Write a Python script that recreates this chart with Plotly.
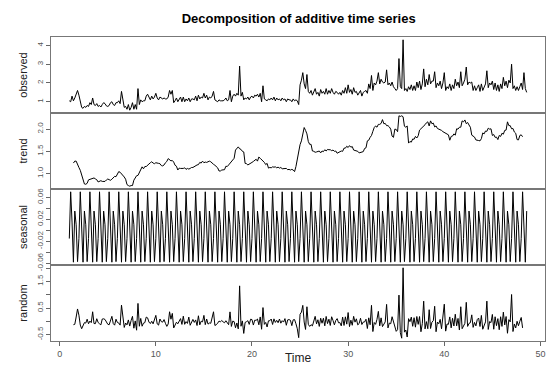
import numpy as np
import plotly.graph_objects as go
from plotly.subplots import make_subplots

# ---- data (daily series, weekly seasonality, time unit = 1 cycle) ----
freq = 7
start_time = 1.0

obs_rows = [
    [1.05, 1.0, 1.3, 1.05, 1.2, 1.45, 1.6],
    [1.35, 1.0, 0.7, 0.65, 0.75, 0.7, 0.8],
    [0.75, 0.95, 0.85, 1.2, 0.85, 0.8, 0.9],
    [0.75, 0.8, 0.72, 0.85, 0.95, 0.9, 0.78],
    [0.75, 0.8, 0.95, 1.0, 0.85, 0.8, 0.95],
    [0.95, 1.05, 0.9, 1.55, 1.1, 0.7, 0.75],
    [0.6, 0.85, 0.55, 0.7, 0.95, 0.6, 0.85],
    [0.6, 1.7, 0.85, 1.1, 1.0, 1.05, 1.05],
    [1.3, 1.4, 1.2, 1.1, 1.3, 1.15, 1.25],
    [1.45, 1.2, 1.1, 1.25, 1.2, 1.15, 1.2],
    [1.15, 1.15, 1.25, 1.6, 1.4, 1.6, 0.95],
    [1.05, 1.2, 1.0, 1.1, 1.25, 1.0, 1.25],
    [1.0, 1.15, 1.05, 1.2, 1.0, 1.15, 1.15],
    [1.1, 1.3, 1.05, 1.35, 1.15, 1.25, 1.2],
    [1.45, 1.2, 1.35, 1.1, 1.25, 1.2, 1.3],
    [1.55, 1.1, 1.05, 1.0, 1.1, 1.05, 1.05],
    [1.05, 1.1, 1.2, 1.05, 1.1, 1.6, 1.0],
    [1.3, 1.4, 1.3, 1.45, 1.35, 2.9, 1.3],
    [1.5, 1.1, 1.2, 1.15, 1.25, 1.1, 1.25],
    [1.3, 1.2, 1.35, 1.3, 1.4, 1.25, 1.45],
    [1.0, 1.85, 1.15, 1.1, 1.05, 1.15, 1.1],
    [1.2, 1.1, 1.25, 1.05, 1.2, 1.1, 1.15],
    [1.05, 1.2, 1.1, 1.15, 1.0, 1.15, 1.1],
    [1.1, 1.0, 1.15, 1.05, 1.1, 1.05, 0.85],
    [1.9, 2.15, 2.55, 1.95, 1.7, 2.45, 1.55],
    [1.45, 1.6, 1.35, 1.5, 1.7, 1.4, 1.5],
    [1.3, 1.65, 1.45, 1.55, 1.4, 1.7, 1.4],
    [1.6, 1.45, 1.7, 1.5, 1.4, 1.55, 1.5],
    [1.4, 1.5, 1.35, 1.6, 1.45, 1.75, 1.45],
    [1.9, 1.5, 1.65, 1.4, 1.75, 1.5, 1.55],
    [1.35, 1.45, 1.6, 1.3, 1.5, 1.55, 1.6],
    [1.45, 1.95, 1.7, 2.4, 1.6, 2.0, 1.9],
    [2.1, 2.55, 1.95, 2.2, 2.05, 2.0, 2.05],
    [2.7, 1.9, 2.0, 1.85, 2.05, 1.8, 1.7],
    [1.6, 1.7, 3.3, 1.8, 1.7, 4.3, 1.6],
    [1.7, 1.55, 1.8, 1.65, 1.9, 1.6, 1.85],
    [1.6, 2.05, 1.75, 2.1, 1.65, 1.95, 2.75],
    [1.8, 2.2, 1.9, 2.45, 1.95, 2.1, 2.1],
    [2.6, 1.75, 2.0, 1.85, 2.1, 1.7, 2.0],
    [2.55, 1.6, 1.8, 1.7, 1.95, 1.6, 1.9],
    [1.7, 2.2, 1.85, 2.05, 1.75, 2.6, 1.85],
    [2.0, 2.2, 2.85, 1.9, 2.05, 2.0, 2.05],
    [1.6, 1.85, 1.6, 1.75, 1.9, 1.55, 1.95],
    [1.6, 1.8, 1.95, 2.65, 1.75, 2.0, 1.9],
    [2.1, 1.65, 2.0, 1.6, 1.9, 1.55, 1.95],
    [1.7, 2.3, 1.85, 2.1, 1.75, 2.15, 2.0],
    [3.0, 1.7, 1.85, 1.6, 1.8, 1.6, 1.8],
    [2.0, 1.65, 2.55, 1.7, 1.5],
]

# seasonal figure (one weekly cycle, centred)
seasonal_figure = [-0.015, 0.07, 0.015, -0.058, 0.035, 0.01, -0.057]

panel_names = ["observed", "trend", "seasonal", "random"]
x_ticks = [0, 10, 20, 30, 40, 50]

# ---- classical additive decomposition ----
observed = np.array([v for row in obs_rows for v in row], dtype=float)
n = len(observed)
time = start_time + np.arange(n) / freq

half = freq // 2
trend = np.full(n, np.nan)
for i in range(half, n - half):
    trend[i] = observed[i - half:i + half + 1].mean()
seasonal = np.array([seasonal_figure[i % freq] for i in range(n)])
random_c = observed - trend - seasonal

series = [observed, trend, seasonal, random_c]

def r_range(v):
    v = v[~np.isnan(v)]
    lo, hi = v.min(), v.max()
    d = hi - lo
    return [lo - 0.04 * d, hi + 0.04 * d]

y_ticks = [
    dict(tickvals=[1, 2, 3, 4], ticktext=["1", "2", "3", "4"]),
    dict(tickvals=[1.0, 1.5, 2.0], ticktext=["1.0", "1.5", "2.0"]),
    dict(tickvals=[-0.06, -0.04, -0.02, 0.0, 0.02, 0.04, 0.06],
         ticktext=["-0.06", "", "-0.02", "", "0.02", "", "0.06"]),
    dict(tickvals=[-0.5, 0.0, 0.5, 1.0, 1.5, 2.0],
         ticktext=["-0.5", "", "0.5", "", "1.5", ""]),
]

fig = make_subplots(rows=4, cols=1, shared_xaxes=True, vertical_spacing=0)

for k, (name, s) in enumerate(zip(panel_names, series)):
    yv = [None if np.isnan(v) else float(v) for v in s]
    fig.add_trace(go.Scatter(x=time, y=yv, mode="lines",
                             line=dict(color="black", width=1),
                             connectgaps=False, showlegend=False,
                             hoverinfo="skip"),
                  row=k + 1, col=1)
    fig.update_yaxes(row=k + 1, col=1, range=r_range(s), automargin=False,
                     tickmode="array",
                     tickvals=y_ticks[k]["tickvals"],
                     ticktext=y_ticks[k]["ticktext"],
                     tickangle=-90, ticks="outside", ticklen=4,
                     tickcolor="#666", tickfont=dict(size=8, color="#555",
                                                     family="Liberation Sans"),
                     showline=True, mirror=True, linecolor="#777", linewidth=1,
                     showgrid=False, zeroline=False,
                     title=dict(text=name, standoff=5,
                                font=dict(size=11, color="#222",
                                          family="Liberation Sans")))

t0, t1 = time[0], time[-1]
dx = (t1 - t0) * 0.04
for k in range(4):
    fig.update_xaxes(row=k + 1, col=1, range=[t0 - dx, t1 + dx], automargin=False,
                     showline=True, mirror=True, linecolor="#777", linewidth=1,
                     showgrid=False, zeroline=False,
                     showticklabels=(k == 3), ticks="outside" if k == 3 else "",
                     tickmode="array", tickvals=x_ticks, ticklen=4, tickcolor="#666",
                     tickfont=dict(size=9, color="#555", family="Liberation Sans"))
fig.update_xaxes(row=4, col=1, title=dict(text="Time", standoff=9,
                                          font=dict(size=12, color="#222",
                                                    family="Liberation Sans")))

fig.update_layout(
    template="none",
    width=548, height=365,
    margin=dict(l=51, r=3, t=37, b=24, autoexpand=False),
    paper_bgcolor="white", plot_bgcolor="white",
    font=dict(family="Liberation Sans"),
    hovermode=False,
    title=dict(text="<b>Decomposition of additive time series</b>",
               x=0.545, xanchor="center", y=0.95, yanchor="middle",
               font=dict(size=13, color="black", family="Liberation Sans")),
)

fig.write_html("out.html",
               config={"displayModeBar": False, "staticPlot": True},
               post_script="document.body.style.margin='0px';"
                           "document.body.style.overflow='hidden';")
